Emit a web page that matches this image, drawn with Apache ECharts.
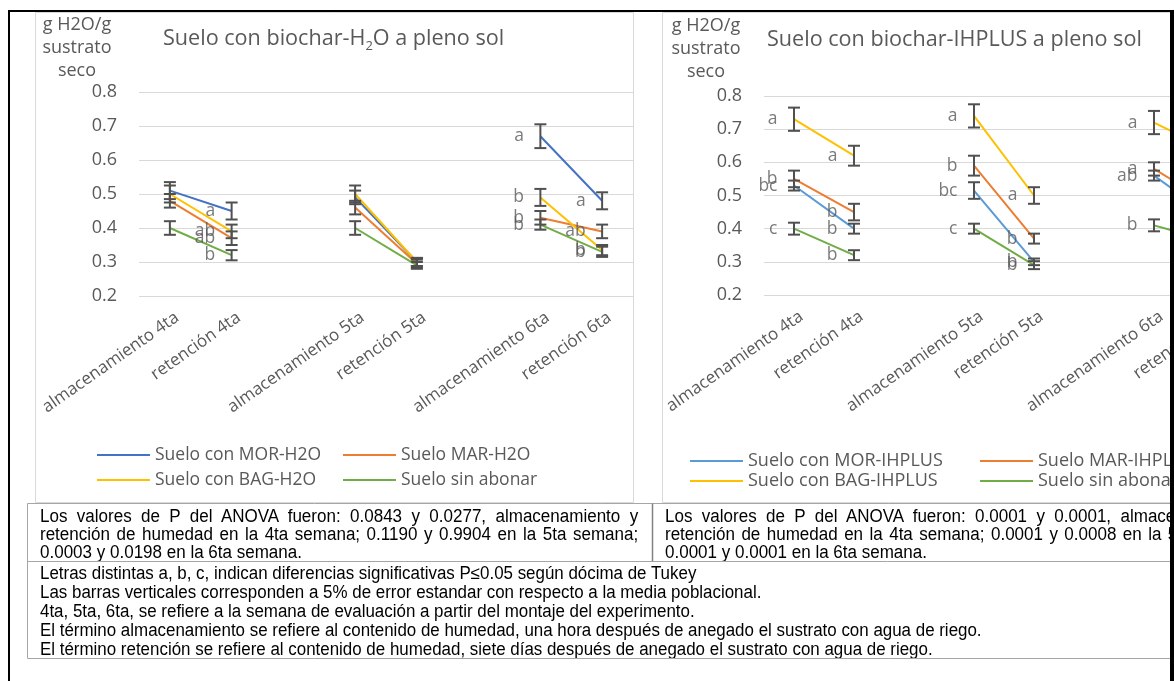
<!DOCTYPE html>
<html><head><meta charset="utf-8">
<script src="https://cdn.jsdelivr.net/npm/echarts@6/dist/echarts.min.js"></script>
<style>
html,body{margin:0;padding:0;background:#fff;width:1174px;height:681px;overflow:hidden;}
#chart{position:absolute;left:0;top:0;width:1174px;height:681px;}
.notes{position:absolute;font-family:"Liberation Sans",Arial,sans-serif;font-size:18px;color:#000;white-space:nowrap;}
.clip{position:absolute;overflow:hidden;}
.sc{position:absolute;left:0;top:0;transform:scaleX(0.945);transform-origin:0 0;}
.ln{position:absolute;left:0;height:18px;line-height:18px;}
.j{text-align:justify;text-align-last:justify;}
</style></head>
<body>
<div id="chart"></div>
<div class="clip notes" style="left:40px;top:507px;width:600px;height:54px;">
 <div class="sc">
  <div class="ln j" style="top:0;width:633px;">Los valores de P del ANOVA fueron: 0.0843 y 0.0277, almacenamiento y</div>
  <div class="ln j" style="top:18px;width:633px;">retención de humedad en la 4ta semana; 0.1190 y 0.9904 en la 5ta semana;</div>
  <div class="ln" style="top:36px;">0.0003 y 0.0198 en la 6ta semana.</div>
 </div>
</div>
<div class="clip notes" style="left:665px;top:507px;width:505px;height:54px;">
 <div class="sc">
  <div class="ln j" style="top:0;width:633px;">Los valores de P del ANOVA fueron: 0.0001 y 0.0001, almacenamiento y</div>
  <div class="ln j" style="top:18px;width:633px;">retención de humedad en la 4ta semana; 0.0001 y 0.0008 en la 5ta semana;</div>
  <div class="ln" style="top:36px;">0.0001 y 0.0001 en la 6ta semana.</div>
 </div>
</div>
<div class="clip notes" style="left:40px;top:564px;width:1128px;height:94px;">
 <div class="sc" style="transform:scaleX(0.94);">
  <div class="ln" style="top:0;">Letras distintas a, b, c, indican diferencias significativas P≤0.05 según dócima de Tukey</div>
  <div class="ln" style="top:19px;">Las barras verticales corresponden a 5% de error estandar con respecto a la media poblacional.</div>
  <div class="ln" style="top:38px;">4ta, 5ta, 6ta, se refiere a la semana de evaluación a partir del montaje del experimento.</div>
  <div class="ln" style="top:57px;">El término almacenamiento se refiere al contenido de humedad, una hora después de anegado el sustrato con agua de riego.</div>
  <div class="ln" style="top:76px;">El término retención se refiere al contenido de humedad, siete días después de anegado el sustrato con agua de riego.</div>
 </div>
</div>
<script>
// ---------- data ----------
const categories = ['almacenamiento 4ta', 'retención 4ta', '', 'almacenamiento 5ta', 'retención 5ta', '', 'almacenamiento 6ta', 'retención 6ta'];
const yMin = 0.2, yMax = 0.8, yStep = 0.1;

// Chart 1: Suelo con biochar-H2O
const h2oNames = ['Suelo con MOR-H2O', 'Suelo MAR-H2O', 'Suelo con BAG-H2O', 'Suelo sin abonar'];
const h2oMOR = [0.51, 0.45, null, 0.49, 0.30, null, 0.67, 0.48];
const h2oMAR = [0.48, 0.37, null, 0.46, 0.295, null, 0.43, 0.39];
const h2oBAG = [0.50, 0.39, null, 0.50, 0.30, null, 0.49, 0.335];
const h2oSin = [0.40, 0.32, null, 0.40, 0.29, null, 0.41, 0.33];
const h2oMORErr = [0.025, 0.025, null, 0.02, 0.012, null, 0.035, 0.025];
const h2oMARErr = [0.02, 0.02, null, 0.02, 0.012, null, 0.02, 0.02];
const h2oBAGErr = [0.025, 0.02, null, 0.025, 0.012, null, 0.025, 0.015];
const h2oSinErr = [0.02, 0.015, null, 0.02, 0.01, null, 0.015, 0.015];
const h2oMORLet = ['', 'a', '', '', '', '', 'a', 'a'];
const h2oMARLet = ['', 'ab', '', '', '', '', 'b', 'ab'];
const h2oBAGLet = ['', 'ab', '', '', '', '', 'b', 'b'];
const h2oSinLet = ['', 'b', '', '', '', '', 'b', 'b'];

// Chart 2: Suelo con biochar-IHPLUS
const ihNames = ['Suelo con MOR-IHPLUS', 'Suelo MAR-IHPLUS', 'Suelo con BAG-IHPLUS', 'Suelo sin abonar'];
const ihMOR = [0.53, 0.40, null, 0.515, 0.30, null, 0.56, 0.43];
const ihMAR = [0.55, 0.45, null, 0.59, 0.37, null, 0.58, 0.47];
const ihBAG = [0.73, 0.62, null, 0.74, 0.50, null, 0.72, 0.63];
const ihSin = [0.40, 0.32, null, 0.40, 0.29, null, 0.41, 0.36];
const ihMORErr = [0.015, 0.015, null, 0.025, 0.01, null, 0.015, 0.02];
const ihMARErr = [0.025, 0.025, null, 0.03, 0.015, null, 0.02, 0.02];
const ihBAGErr = [0.035, 0.03, null, 0.035, 0.025, null, 0.035, 0.03];
const ihSinErr = [0.018, 0.015, null, 0.015, 0.012, null, 0.018, 0.02];
const ihMORLet = ['bc', 'b', '', 'bc', 'b', '', 'ab', ''];
const ihMARLet = ['b', 'b', '', 'b', 'b', '', 'a', ''];
const ihBAGLet = ['a', 'a', '', 'a', 'a', '', 'a', ''];
const ihSinLet = ['c', 'b', '', 'c', 'b', '', 'b', ''];

// ---------- styles ----------
const FONT = '"Open Sans", sans-serif';
const GRAY = '#595959';
const c1 = ['#4472C4', '#ED7D31', '#FFC000', '#70AD47'];
const c2 = ['#5B9BD5', '#ED7D31', '#FFC000', '#70AD47'];

function errRender(params, api) {
  const x = api.value(0), lo = api.value(1), hi = api.value(2);
  const p1 = api.coord([x, hi]), p2 = api.coord([x, lo]);
  const w = 6;
  const style = { stroke: '#505050', lineWidth: 2 };
  return { type: 'group', children: [
    { type: 'line', shape: { x1: p1[0], y1: p1[1], x2: p2[0], y2: p2[1] }, style },
    { type: 'line', shape: { x1: p1[0] - w, y1: p1[1], x2: p1[0] + w, y2: p1[1] }, style },
    { type: 'line', shape: { x1: p2[0] - w, y1: p2[1], x2: p2[0] + w, y2: p2[1] }, style }
  ]};
}
function lineSeries(name, data, color, gi) {
  return { name, type: 'line', data, xAxisIndex: gi, yAxisIndex: gi, symbol: 'none', connectNulls: false,
    lineStyle: { color, width: 2 }, itemStyle: { color }, z: 2, animation: false };
}
function errSeries(vals, errs, gi) {
  const d = [];
  vals.forEach((v, i) => { if (v != null && errs[i] != null) d.push([i, v - errs[i], v + errs[i]]); });
  return { type: 'custom', xAxisIndex: gi, yAxisIndex: gi, data: d, renderItem: errRender, z: 4, silent: true, animation: false };
}
function letterSeries(vals, letters, gi) {
  const d = [];
  vals.forEach((v, i) => { if (v != null && letters[i]) d.push([i, v, letters[i]]); });
  return { type: 'scatter', xAxisIndex: gi, yAxisIndex: gi, data: d, symbolSize: 1, itemStyle: { color: 'rgba(0,0,0,0)' },
    label: { show: true, position: 'left', distance: 16, formatter: p => p.data[2], color: GRAY, fontSize: 17.5, fontFamily: FONT },
    z: 5, silent: true, animation: false };
}
function xAxis(gi) {
  return { type: 'category', gridIndex: gi, data: categories, boundaryGap: true,
    axisLine: { show: false }, axisTick: { show: false }, splitLine: { show: false },
    axisLabel: { interval: 0, rotate: 35, margin: 25, padding: [0, -9, 0, 0], color: GRAY, fontSize: 17, fontFamily: FONT, hideOverlap: false } };
}
function yAxis(gi) {
  return { type: 'value', gridIndex: gi, min: yMin, max: yMax, interval: yStep,
    axisLine: { show: false }, axisTick: { show: false },
    splitLine: { lineStyle: { color: '#D9D9D9', width: 1 } },
    axisLabel: { margin: 22, color: GRAY, fontSize: 18, fontFamily: FONT, formatter: v => v.toFixed(1) } };
}
function legend(name, left, top, size) {
  return { data: [name], left, top, padding: 0, icon: 'rect', itemWidth: 53, itemHeight: 2, selectedMode: false,
    textStyle: { color: GRAY, fontSize: size, fontFamily: FONT } };
}

const series = [];
[h2oMOR, h2oMAR, h2oBAG, h2oSin].forEach((s, k) => series.push(lineSeries(h2oNames[k], s, c1[k], 0)));
[[h2oMOR, h2oMORErr], [h2oMAR, h2oMARErr], [h2oBAG, h2oBAGErr], [h2oSin, h2oSinErr]].forEach(s => series.push(errSeries(s[0], s[1], 0)));
[[h2oMOR, h2oMORLet], [h2oMAR, h2oMARLet], [h2oBAG, h2oBAGLet], [h2oSin, h2oSinLet]].forEach(s => series.push(letterSeries(s[0], s[1], 0)));
[ihMOR, ihMAR, ihBAG, ihSin].forEach((s, k) => series.push(lineSeries(ihNames[k], s, c2[k], 1)));
[[ihMOR, ihMORErr], [ihMAR, ihMARErr], [ihBAG, ihBAGErr], [ihSin, ihSinErr]].forEach(s => series.push(errSeries(s[0], s[1], 1)));
[[ihMOR, ihMORLet], [ihMAR, ihMARLet], [ihBAG, ihBAGLet], [ihSin, ihSinLet]].forEach(s => series.push(letterSeries(s[0], s[1], 1)));

const titleRich = {
  a: { fontSize: 21.6, fontWeight: 'normal', color: GRAY, fontFamily: FONT, lineHeight: 28 },
  s: { fontSize: 13, fontWeight: 'normal', color: GRAY, fontFamily: FONT, lineHeight: 15, verticalAlign: 'bottom' }
};
const yNameStyle = { fill: GRAY, font: '18px "Open Sans", sans-serif', textAlign: 'center', lineHeight: 23 };

const chart = echarts.init(document.getElementById('chart'));
chart.setOption({
  animation: false,
  backgroundColor: '#fff',
  title: [
    { text: '{a|Suelo con biochar-H}{s|2}{a|O a pleno sol}', left: 163, top: 25, padding: 0, textStyle: { fontWeight: 'normal', rich: titleRich } },
    { text: '{a|Suelo con biochar-IHPLUS a pleno sol}', left: 767, top: 26, padding: 0, textStyle: { fontWeight: 'normal', rich: titleRich } }
  ],
  grid: [
    { left: 139, top: 92, width: 494, height: 204, outerBoundsMode: 'none' },
    { left: 764, top: 96, width: 480, height: 199, outerBoundsMode: 'none' }
  ],
  xAxis: [xAxis(0), xAxis(1)],
  yAxis: [yAxis(0), yAxis(1)],
  legend: [
    legend(h2oNames[0], 97, 446, 17.5), legend(h2oNames[1], 343, 446, 17.5),
    legend(h2oNames[2], 97, 471, 17.5), legend(h2oNames[3], 343, 471, 17.5),
    legend(ihNames[0], 690, 452, 18), legend(ihNames[1], 980, 452, 18),
    legend(ihNames[2], 690, 472, 18), legend(ihNames[3], 980, 472, 18)
  ],
  graphic: [
    { type: 'rect', z: -10, shape: { x: 35.5, y: 12.5, width: 598, height: 490 }, style: { fill: 'none', stroke: '#D9D9D9', lineWidth: 1 } },
    { type: 'rect', z: -10, shape: { x: 662.5, y: 12.5, width: 560, height: 490 }, style: { fill: 'none', stroke: '#D9D9D9', lineWidth: 1 } },
    { type: 'text', z: 10, x: 77, y: 13, style: Object.assign({ text: 'g H2O/g\nsustrato\nseco' }, yNameStyle) },
    { type: 'text', z: 10, x: 706, y: 14, style: Object.assign({ text: 'g H2O/g\nsustrato\nseco' }, yNameStyle) },
    // table
    { type: 'rect', z: 20, shape: { x: 27.5, y: 503.5, width: 1160, height: 155 }, style: { fill: 'none', stroke: '#A6A6A6', lineWidth: 1 } },
    { type: 'line', z: 20, shape: { x1: 27.5, y1: 561.5, x2: 1174, y2: 561.5 }, style: { stroke: '#A6A6A6', lineWidth: 1 } },
    { type: 'line', z: 20, shape: { x1: 652.5, y1: 503.5, x2: 652.5, y2: 561.5 }, style: { stroke: '#808080', lineWidth: 1.5 } },
    // outer frame
    { type: 'rect', z: 30, shape: { x: 8, y: 10, width: 1166, height: 2 }, style: { fill: '#000' } },
    { type: 'rect', z: 30, shape: { x: 8, y: 10, width: 2, height: 671 }, style: { fill: '#000' } },
    { type: 'rect', z: 30, shape: { x: 1170, y: 10, width: 4, height: 671 }, style: { fill: '#000' } }
  ],
  series
});
</script>
</body></html>
